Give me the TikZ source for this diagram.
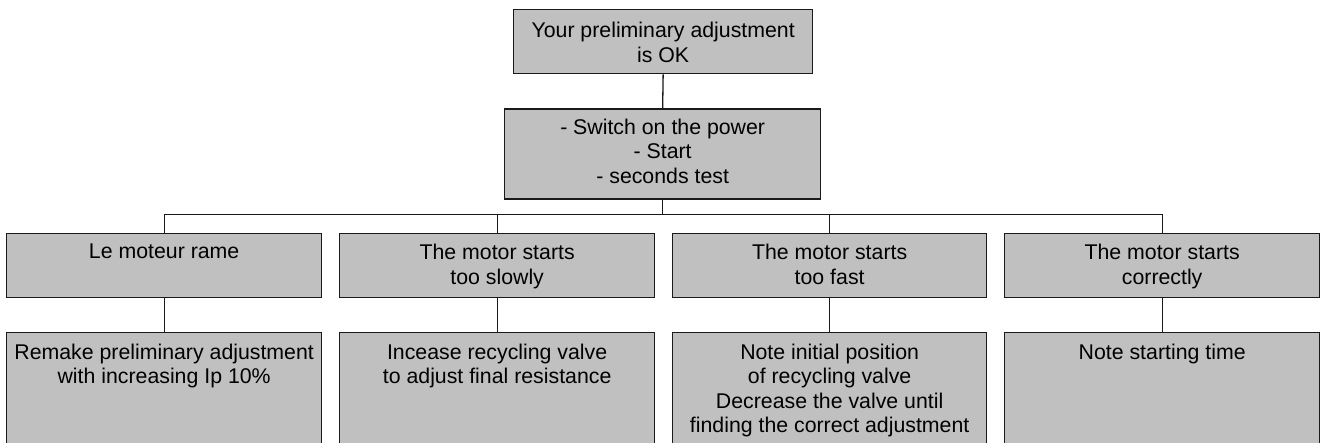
\documentclass[tikz,border=0pt]{standalone}
\usepackage{fontspec}
\setmainfont{Liberation Sans}
\definecolor{boxgray}{HTML}{C0C0C0}
\definecolor{edgec}{HTML}{1A1A1A}
\begin{document}
\begin{tikzpicture}[x=1pt,y=-1pt,
  box/.style={draw=edgec,line width=1.3pt,fill=boxgray,rectangle,inner sep=0pt,anchor=north west},
  txt/.style={anchor=north,inner sep=0pt,align=center,font=\fontsize{21.3}{24.5}\selectfont,text=black},
  link/.style={draw=edgec,line width=1.3pt}]
\clip (0,0) rectangle (1324,443);
\fill[white] (0,0) rectangle (1324,443);
% boxes
\node[box,minimum width=299pt,minimum height=64pt] (top) at (513,9) {};
\node[box,minimum width=316pt,minimum height=90pt] (mid) at (504,108.3) {};
\node[box,minimum width=315pt,minimum height=64.5pt] (a1) at (6,232.6) {};
\node[box,minimum width=315pt,minimum height=64.5pt] (a2) at (339,232.6) {};
\node[box,minimum width=314pt,minimum height=64.5pt] (a3) at (672,232.6) {};
\node[box,minimum width=315pt,minimum height=64.5pt] (a4) at (1004,232.6) {};
\node[box,minimum width=315pt,minimum height=130pt] (b1) at (6,332) {};
\node[box,minimum width=315pt,minimum height=130pt] (b2) at (339,332) {};
\node[box,minimum width=314pt,minimum height=130pt] (b3) at (672,332) {};
\node[box,minimum width=315pt,minimum height=130pt] (b4) at (1004,332) {};
% texts
\node[txt] (ttop) at ([yshift=-13.2pt]top.north) {Your preliminary adjustment\\is OK};
\node[txt] (tmid) at ([yshift=-10.5pt]mid.north) {- Switch on the power\\- Start\\- seconds test};
\node[txt] (ta1) at ([yshift=-11.5pt]a1.north) {Le moteur rame};
\node[txt] (ta2) at ([yshift=-11.5pt]a2.north) {The motor starts\\too slowly};
\node[txt] (ta3) at ([yshift=-11.5pt]a3.north) {The motor starts\\too fast};
\node[txt] (ta4) at ([yshift=-11.5pt]a4.north) {The motor starts\\correctly};
\node[txt] (tb1) at ([yshift=-11.8pt]b1.north) {Remake preliminary adjustment\\with increasing Ip 10\%};
\node[txt] (tb2) at ([yshift=-11.8pt]b2.north) {Incease recycling valve\\to adjust final resistance};
\node[txt] (tb3) at ([yshift=-11.8pt]b3.north) {Note initial position\\of recycling valve\\Decrease the valve until\\finding the correct adjustment};
\node[txt] (tb4) at ([yshift=-11.8pt]b4.north) {Note starting time};
% connectors
\coordinate (bus) at (0,214.7);
\draw[link] (top.south) -- (mid.north);
\draw[link] (mid.south) -- (mid.south |- bus);
\draw[link] (a1.north) -- (a1.north |- bus) -- (a4.north |- bus) -- (a4.north);
\draw[link] (a2.north) -- (a2.north |- bus);
\draw[link] (a3.north) -- (a3.north |- bus);
\draw[link] (a1.south) -- (b1.north);
\draw[link] (a2.south) -- (b2.north);
\draw[link] (a3.south) -- (b3.north);
\draw[link] (a4.south) -- (b4.north);
\end{tikzpicture}
\end{document}
